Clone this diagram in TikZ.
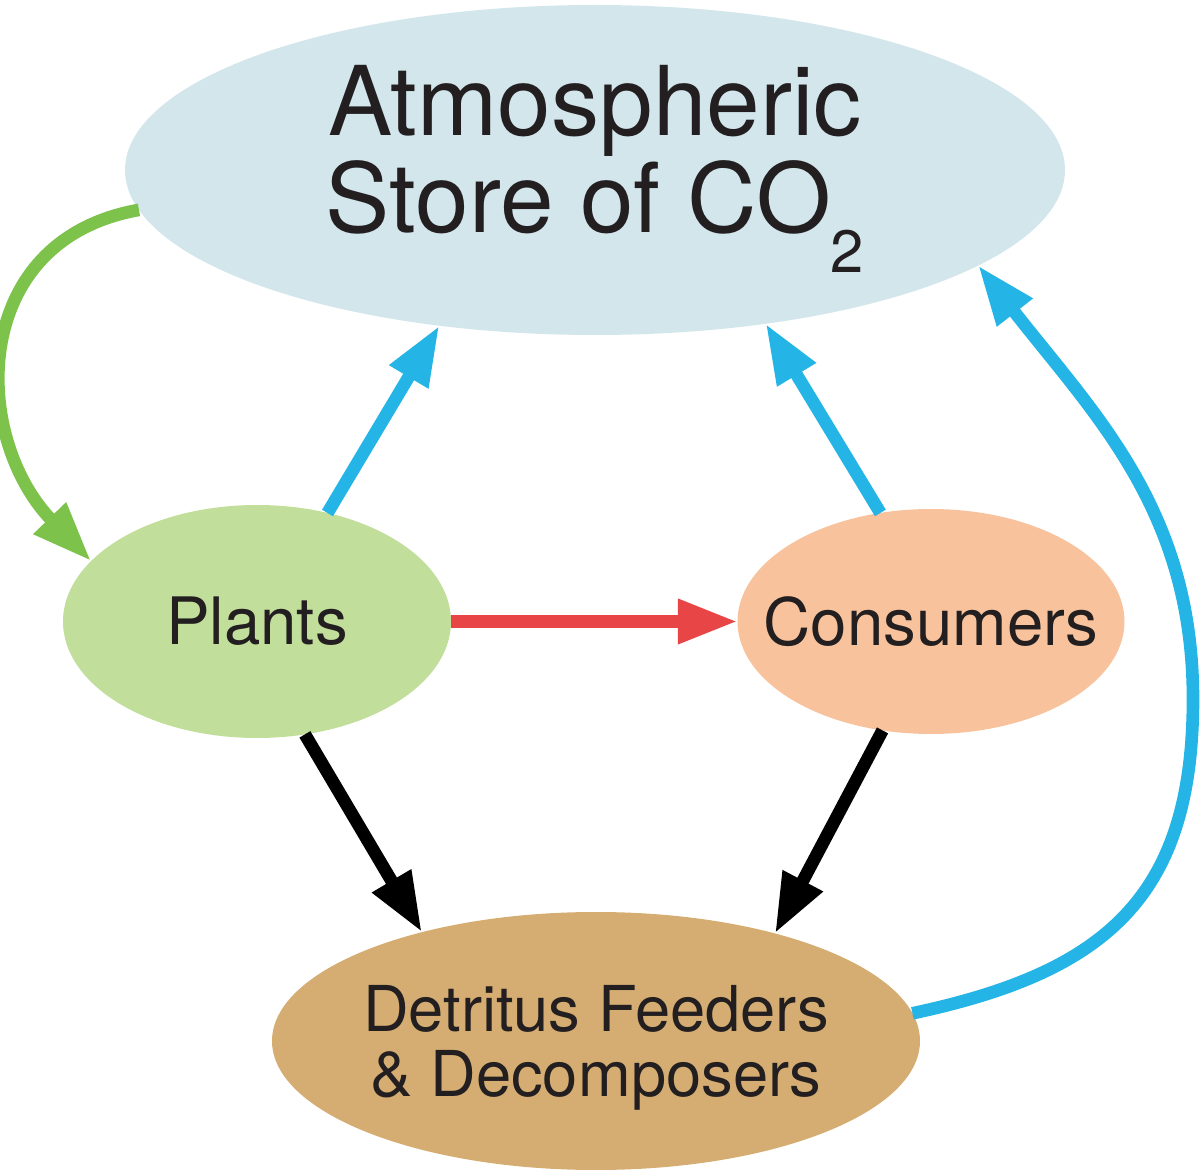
\documentclass[tikz,border=0pt]{standalone}
\usepackage{fontspec}
\setmainfont{TeX Gyre Heros}
\usetikzlibrary{arrows.meta,positioning,shapes.geometric}

\definecolor{airfill}{RGB}{211,230,236}
\definecolor{plantfill}{RGB}{193,222,155}
\definecolor{consfill}{RGB}{248,195,156}
\definecolor{detfill}{RGB}{213,173,114}
\definecolor{uptake}{RGB}{125,194,75}
\definecolor{resp}{RGB}{36,180,230}
\definecolor{eaten}{RGB}{232,69,70}
\definecolor{inkdark}{RGB}{35,31,32}

\begin{document}
\begin{tikzpicture}[>={Triangle[length=17pt,width=12pt]},line width=3.6pt,
    pool/.style={ellipse,draw=none,inner sep=0pt,outer sep=0pt},
    poollabel/.style={text=inkdark,align=center},
    bigfont/.style={font=\fontsize{27.4pt}{27.6pt}\selectfont},
    midfont/.style={font=\fontsize{18.6pt}{20pt}\selectfont},
    smallfont/.style={font=\fontsize{18pt}{18.5pt}\selectfont}]
    \useasboundingbox (0,0) rectangle (12,11.74);

          \node[pool,fill=airfill,minimum width=9.4cm,minimum height=3.3cm,
                label={[poollabel,bigfont,yshift=0.01cm]center:Atmospheric\\Store of CO\raisebox{-0.42em}{\fontsize{17pt}{17pt}\selectfont 2}}]
                (atmos) at (5.95,10.04) {};
          \node[pool,fill=plantfill,minimum width=3.88cm,minimum height=2.33cm,
                label={[poollabel,midfont]center:Plants}]
                (plants) at (2.57,5.525) {};
          \node[pool,fill=consfill,minimum width=3.87cm,minimum height=2.25cm,
                label={[poollabel,midfont]center:Consumers}]
                (consumers) [right=2.865cm of plants] {};
          \node[pool,fill=detfill,minimum width=6.48cm,minimum height=2.58cm,
                label={[poollabel,smallfont,yshift=-0.07cm]center:Detritus Feeders\\\& Decomposers}]
                (detritus) at (5.96,1.33) {};
          \coordinate (turn) at (11.93,4.75);

          \path[->] (atmos.185) edge[uptake,out=190,in=134,looseness=1.25] (plants.160)
                    (plants.57) edge[resp] (atmos.225)
                    (consumers.115) edge[resp] (atmos.318)
                    (plants.east) edge[eaten] (consumers.west)
                    (plants.293) edge[black] (detritus.148)
                    (consumers.246) edge[black] (detritus.31);
          \draw[->,resp] (detritus.5) to[out=12,in=-90,looseness=1.2] (turn)
                    to[out=90,in=-52] (atmos.346);
        \end{tikzpicture}
\end{document}
